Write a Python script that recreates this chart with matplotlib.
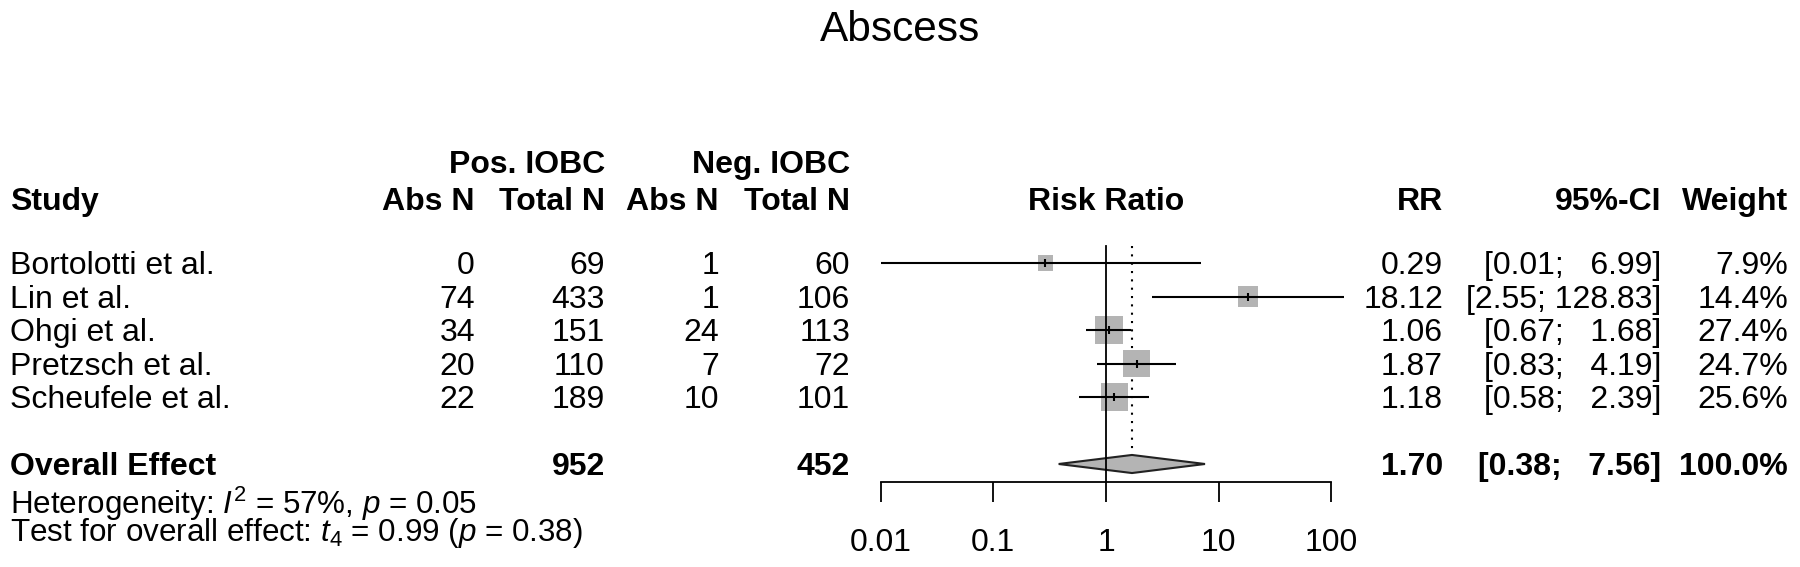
import matplotlib
matplotlib.use("Agg")
import numpy as np
from matplotlib import pyplot as plt
from matplotlib.patches import Polygon

plt.rcParams['font.family'] = ['Liberation Sans', 'DejaVu Sans']
plt.rcParams['mathtext.fontset'] = 'custom'
plt.rcParams['mathtext.rm'] = 'Liberation Sans'
plt.rcParams['mathtext.it'] = 'Liberation Sans:italic'
plt.rcParams['mathtext.bf'] = 'Liberation Sans:bold'

# data
studies = ["Bortolotti et al.", "Lin et al.", "Ohgi et al.", "Pretzsch et al.", "Scheufele et al."]
pos_abs = [0, 74, 34, 20, 22]
pos_total = [69, 433, 151, 110, 189]
neg_abs = [1, 1, 24, 7, 10]
neg_total = [60, 106, 113, 72, 101]
rr = [0.29, 18.12, 1.06, 1.87, 1.18]
ci_lo = [0.01, 2.55, 0.67, 0.83, 0.58]
ci_hi = [6.99, 128.83, 1.68, 4.19, 2.39]
weight = [7.9, 14.4, 27.4, 24.7, 25.6]

overall_rr = 1.70
overall_lo = 0.38
overall_hi = 7.56
overall_pos_total = 952
overall_neg_total = 452

xticks = [0.01, 0.1, 1, 10, 100]
xticklabels = ["0.01", "0.1", "1", "10", "100"]

het_text = "Heterogeneity: $I^2$ = 57%, $p$ = 0.05"
test_text = "Test for overall effect: $t_4$ = 0.99 ($p$ = 0.38)"

# layout (figure is 1800 x 567 px, rows are 33.5 px apart)
W, H = 1800, 567
row0 = 263.0
rowh = 33.5
ytop = -row0 / rowh
ybot = (H - row0) / rowh
rows = np.arange(len(studies))
overall_row = 6
base = 0.34      # baseline offset for text centred on a row
fs = 23
fs_het = 22.6

fig = plt.figure(figsize=(18, 5.67), dpi=100)

# text layer in pixel-like x, row units in y
ax = fig.add_axes([0, 0, 1, 1])
ax.set_xlim(0, W)
ax.set_ylim(ybot, ytop)
ax.axis('off')

# forest layer: log axis where 1 sits at x=1106 px and one decade is 112.7 px
x1, dec = 1106.0, 112.7
left = x1 - 2.5 * dec
axf = fig.add_axes([left / W, 0, 5 * dec / W, 1])
axf.set_xscale('log')
axf.set_xlim(10 ** -2.5, 10 ** 2.5)
axf.set_ylim(ybot, ytop)
axf.axis('off')

# title
ax.text(W / 2, -6.63, "Abscess", ha='center', va='baseline', fontsize=30.5)

# headers
hb = dict(fontsize=fs, fontweight='bold', va='baseline')
ax.text(605, -2.69, "Pos. IOBC", ha='right', **hb)
ax.text(850, -2.69, "Neg. IOBC", ha='right', **hb)
ax.text(10, -1.58, "Study", ha='left', **hb)
ax.text(475, -1.58, "Abs N", ha='right', **hb)
ax.text(605, -1.58, "Total N", ha='right', **hb)
ax.text(719, -1.58, "Abs N", ha='right', **hb)
ax.text(850, -1.58, "Total N", ha='right', **hb)
ax.text(x1, -1.58, "Risk Ratio", ha='center', **hb)
ax.text(1443, -1.58, "RR", ha='right', **hb)
ax.text(1661, -1.58, "95%-CI", ha='right', **hb)
ax.text(1788, -1.58, "Weight", ha='right', **hb)

# study rows
tb = dict(fontsize=fs, va='baseline')
for i, name in enumerate(studies):
    y = rows[i] + base
    ax.text(10, y, name, ha='left', **tb)
    ax.text(475, y, str(pos_abs[i]), ha='right', **tb)
    ax.text(605, y, str(pos_total[i]), ha='right', **tb)
    ax.text(719, y, str(neg_abs[i]), ha='right', **tb)
    ax.text(850, y, str(neg_total[i]), ha='right', **tb)
    ax.text(1443, y, f"{rr[i]:.2f}", ha='right', **tb)
    ax.text(1661, y, f"[{ci_lo[i]:.2f}; {ci_hi[i]:6.2f}]", ha='right', **tb)
    ax.text(1788, y, f"{weight[i]:.1f}%", ha='right', **tb)

# overall row
y = overall_row + base
ax.text(10, y, "Overall Effect", ha='left', **hb)
ax.text(605, y, str(overall_pos_total), ha='right', **hb)
ax.text(850, y, str(overall_neg_total), ha='right', **hb)
ax.text(1443, y, f"{overall_rr:.2f}", ha='right', **hb)
ax.text(1661, y, f"[{overall_lo:.2f}; {overall_hi:6.2f}]", ha='right', **hb)
ax.text(1788, y, f"{sum(weight):.1f}%", ha='right', **hb)

ax.text(10, 7.5, het_text, ha='left', va='baseline', fontsize=fs_het)
ax.text(10, 8.3, test_text, ha='left', va='baseline', fontsize=fs_het)

# reference lines
axis_row = 6.54
axf.plot([1, 1], [-0.51, axis_row], color='black', lw=1.3, zorder=5)
axf.plot([overall_rr, overall_rr], [-0.51, overall_row - 0.27], color='black',
         lw=1.5, linestyle=(0, (1, 3)), zorder=1)

# confidence intervals, squares and point ticks
axf.hlines(rows, ci_lo, ci_hi, color='black', lw=1.5, zorder=3)
side_pt = 5.35 * np.sqrt(weight) * 0.72
axf.scatter(rr, rows, marker='s', s=side_pt ** 2, color='#b4b4b4',
            edgecolors='none', zorder=2)
axf.plot(rr, rows, linestyle='none', marker='|', ms=6, mew=1.5,
         color='black', zorder=4)

# summary diamond
dia = Polygon([(overall_lo, overall_row), (overall_rr, overall_row - 0.27),
               (overall_hi, overall_row), (overall_rr, overall_row + 0.27)],
              closed=True, facecolor='#b4b4b4', edgecolor='#222222', lw=1.5, zorder=4)
axf.add_patch(dia)

# x axis
axf.plot([xticks[0], xticks[-1]], [axis_row, axis_row], color='black', lw=1.3)
axf.vlines(xticks, axis_row, axis_row + 0.6, color='black', lw=1.3)
for t, lab in zip(xticks, xticklabels):
    axf.text(t, 8.6, lab, ha='center', va='baseline', fontsize=fs)

fig.savefig("out.png", dpi=100)
